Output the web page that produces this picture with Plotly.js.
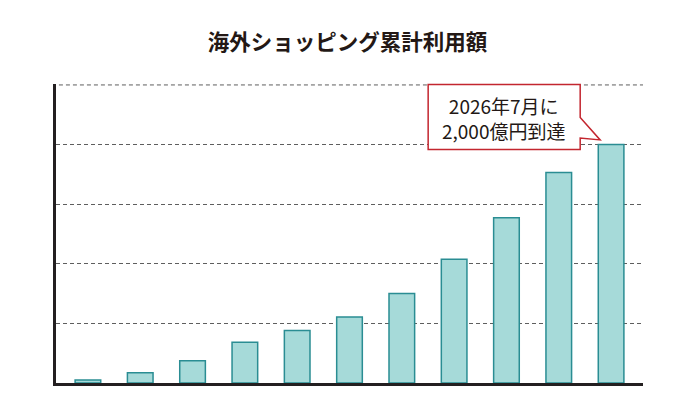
<!DOCTYPE html>
<html>
<head>
<meta charset="utf-8">
<script src="https://cdn.plot.ly/plotly-3.0.1.min.js"></script>
<style>
  html, body { margin: 0; padding: 0; background: #ffffff; }
  #chart { width: 682px; height: 409px; }
</style>
</head>
<body>
<div id="chart"></div>
<script>
// Data (values in 億円; periods are not labelled in the original)
const periods = ["P1", "P2", "P3", "P4", "P5", "P6", "P7", "P8", "P9", "P10", "P11"];
const cumulativeUsage = [25, 86, 187, 341, 441, 553, 751, 1038, 1387, 1765, 2000];
const gridTop = 2500;
const chartTitle = "海外ショッピング累計利用額";
const calloutText = "2026年7月に<br>2,000億円到達";

const FONT = '"Noto Sans CJK JP", "Noto Sans", sans-serif';
const GRID_COLOR = "#5e5e5e";

const trace = {
  type: "bar",
  x: periods,
  y: cumulativeUsage,
  marker: {
    color: "#a6dad9",
    line: { color: "#2a8d93", width: 1.5 }
  },
  hoverinfo: "skip"
};

const layout = {
  width: 682,
  height: 409,
  margin: { l: 56, r: 39, t: 84, b: 26, pad: 0 },
  paper_bgcolor: "#ffffff",
  plot_bgcolor: "#ffffff",
  showlegend: false,
  bargap: 0.51,
  font: { family: FONT, color: "#231815" },
  title: {
    text: chartTitle,
    x: 0.5095,
    xanchor: "center",
    xref: "container",
    y: 0.897,
    yanchor: "middle",
    yref: "container",
    font: { family: FONT, size: 21.5, weight: "bold", color: "#231815" }
  },
  xaxis: {
    type: "category",
    range: [-0.61, 10.61],
    showticklabels: false,
    ticks: "",
    showgrid: false,
    zeroline: false,
    showline: true,
    linecolor: "#231f20",
    linewidth: 3,
    fixedrange: true
  },
  yaxis: {
    range: [0, 2508],
    dtick: 500,
    tick0: 0,
    showticklabels: false,
    ticks: "",
    showgrid: true,
    gridcolor: GRID_COLOR,
    gridwidth: 1,
    griddash: "4px,3px",
    zeroline: false,
    showline: true,
    linecolor: "#231f20",
    linewidth: 3,
    fixedrange: true
  },
  shapes: [
    {
      type: "line",
      xref: "paper",
      yref: "y",
      x0: 0.005,
      x1: 1,
      y0: gridTop,
      y1: gridTop,
      line: { color: GRID_COLOR, width: 1, dash: "4px,3px" },
      layer: "below"
    },
    {
      type: "path",
      xref: "paper",
      yref: "paper",
      path: "M 0.634,0.998 L 0.893,0.998 L 0.893,0.888 L 0.927,0.813 L 0.893,0.819 L 0.893,0.781 L 0.634,0.781 Z",
      fillcolor: "#ffffff",
      line: { color: "#c3262f", width: 1.5 },
      layer: "above"
    }
  ],
  annotations: [
    {
      xref: "paper",
      yref: "paper",
      x: 0.763,
      y: 0.885,
      xanchor: "center",
      yanchor: "middle",
      text: calloutText,
      showarrow: false,
      align: "center",
      font: { family: FONT, size: 19, color: "#231815" }
    }
  ]
};

Plotly.newPlot("chart", [trace], layout, { displayModeBar: false, staticPlot: true });
</script>
</body>
</html>
